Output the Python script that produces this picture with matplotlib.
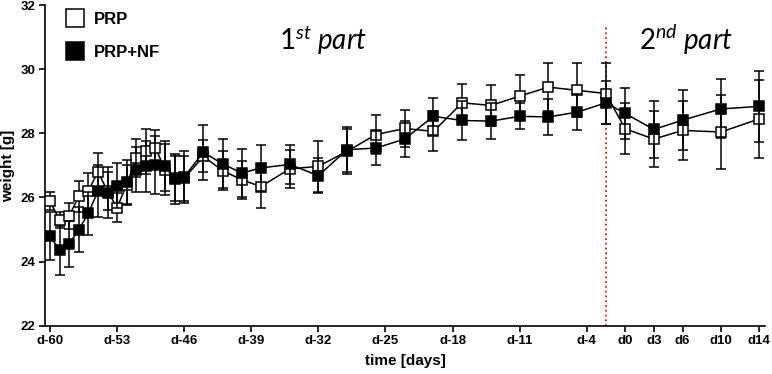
import numpy as np
import matplotlib
matplotlib.use("Agg")
import matplotlib.pyplot as plt

plt.rcParams['font.family'] = ['Liberation Sans', 'DejaVu Sans']
plt.rcParams['mathtext.fontset'] = 'custom'
plt.rcParams['mathtext.it'] = 'Lato:italic'
plt.rcParams['mathtext.rm'] = 'Lato'

# days of measurement
days = [-60, -59, -58, -57, -56, -55, -54, -53, -52, -51, -50, -49, -48, -47, -46,
        -44, -42, -40, -38, -35, -32, -29, -26, -23, -20, -17, -14, -11, -8, -5, -2,
        0, 3, 6, 10, 14]

# PRP group
prp_mean = [25.88, 25.30, 25.43, 26.03, 26.20, 26.80, 26.20, 25.68, 26.40, 27.23, 27.44, 27.55, 26.87, 26.60, 26.60,
            27.28, 26.84, 26.55, 26.34, 26.89, 26.97, 27.44, 27.96, 28.15, 28.06, 28.95, 28.87, 29.16, 29.44, 29.34, 29.24,
            28.14, 27.82, 28.09, 28.04, 28.45]
prp_sd = [0.28, 0.26, 0.40, 0.47, 0.55, 0.60, 0.60, 0.45, 0.60, 0.60, 0.70, 0.55, 0.80, 0.70, 0.70,
          0.50, 0.60, 0.60, 0.67, 0.60, 0.80, 0.70, 0.62, 0.57, 0.62, 0.60, 0.65, 0.67, 0.76, 0.84, 0.94,
          0.80, 0.88, 0.93, 1.16, 1.22]

# PRP+NF group
nf_mean = [24.80, 24.35, 24.55, 25.00, 25.50, 26.20, 26.15, 26.37, 26.48, 26.87, 26.97, 27.02, 26.97, 26.57, 26.64,
           27.41, 27.05, 26.76, 26.92, 27.03, 26.68, 27.49, 27.54, 27.82, 28.53, 28.40, 28.38, 28.53, 28.51, 28.66, 28.95,
           28.62, 28.12, 28.41, 28.76, 28.84]
nf_sd = [0.75, 0.77, 0.72, 0.70, 0.67, 0.80, 0.80, 0.70, 0.70, 0.70, 0.80, 0.90, 0.78, 0.77, 0.80,
         0.86, 0.77, 0.75, 0.73, 0.60, 0.55, 0.70, 0.52, 0.55, 0.57, 0.62, 0.56, 0.41, 0.55, 0.57, 0.67,
         0.80, 0.90, 0.93, 0.92, 1.10]

tick_days = [-60, -53, -46, -39, -32, -25, -18, -11, -4, 0, 3, 6, 10, 14]
tick_labels = ['d-60', 'd-53', 'd-46', 'd-39', 'd-32', 'd-25', 'd-18', 'd-11', 'd-4',
               'd0', 'd3', 'd6', 'd10', 'd14']
split_day = -2

fig = plt.figure(figsize=(7.72, 3.74), dpi=100)
ax = fig.add_axes([0.0583, 0.129, 0.9327, 0.8576])

ax.errorbar(days, prp_mean, yerr=prp_sd, color='black', lw=1.1, elinewidth=1.1,
            capsize=3.8, capthick=1.1, marker='s', markersize=6.5, markerfacecolor='white',
            markeredgecolor='black', markeredgewidth=1.1, label='PRP', zorder=3)
ax.errorbar(days, nf_mean, yerr=nf_sd, color='black', lw=1.1, elinewidth=1.1,
            capsize=3.8, capthick=1.1, marker='s', markersize=6.5, markerfacecolor='black',
            markeredgecolor='black', markeredgewidth=1.1, label='PRP+NF', zorder=4)

ax.vlines(split_day, 22, 31.3, colors='#e8141c', linestyles=':', lw=1.3, zorder=2)

ax.text(-31.5, 30.9, r'$\mathit{1}^{\mathit{st}}$' + ' part', fontsize=20, style='italic',
        family=['Lato', 'DejaVu Sans'], ha='center', va='center')
ax.text(6.3, 30.9, r'$\mathit{2}^{\mathit{nd}}$' + ' part', fontsize=20, style='italic',
        family=['Lato', 'DejaVu Sans'], ha='center', va='center')

ax.set_xlim(-60.52, 14.6)
ax.set_ylim(22, 32)
ax.set_yticks([22, 24, 26, 28, 30, 32])
ax.set_xticks(tick_days)
ax.set_xticklabels(tick_labels)
ax.set_xlabel('time [days]', fontsize=11, fontweight='bold', labelpad=5)
ax.set_ylabel('weight [g]', fontsize=11, fontweight='bold', labelpad=4)

for lab in ax.get_xticklabels() + ax.get_yticklabels():
    lab.set_fontweight('bold')
    lab.set_fontsize(9.5)

ax.spines['top'].set_visible(False)
ax.spines['right'].set_visible(False)
ax.spines['left'].set_linewidth(1.2)
ax.spines['bottom'].set_linewidth(1.2)
ax.tick_params(direction='out', length=4, width=1.2, pad=3)

handles, labels = ax.get_legend_handles_labels()
handles = [h[0] for h in handles]
leg = ax.legend(handles, labels, loc='upper left', bbox_to_anchor=(0.0095, 1.026),
                frameon=False, markerscale=1.9, handlelength=1.0, handletextpad=0.6,
                labelspacing=1.1, prop={'weight': 'bold', 'size': 12})
for h in leg.legend_handles:
    h.set_linestyle('None')

fig.savefig('out.png', dpi=100)
